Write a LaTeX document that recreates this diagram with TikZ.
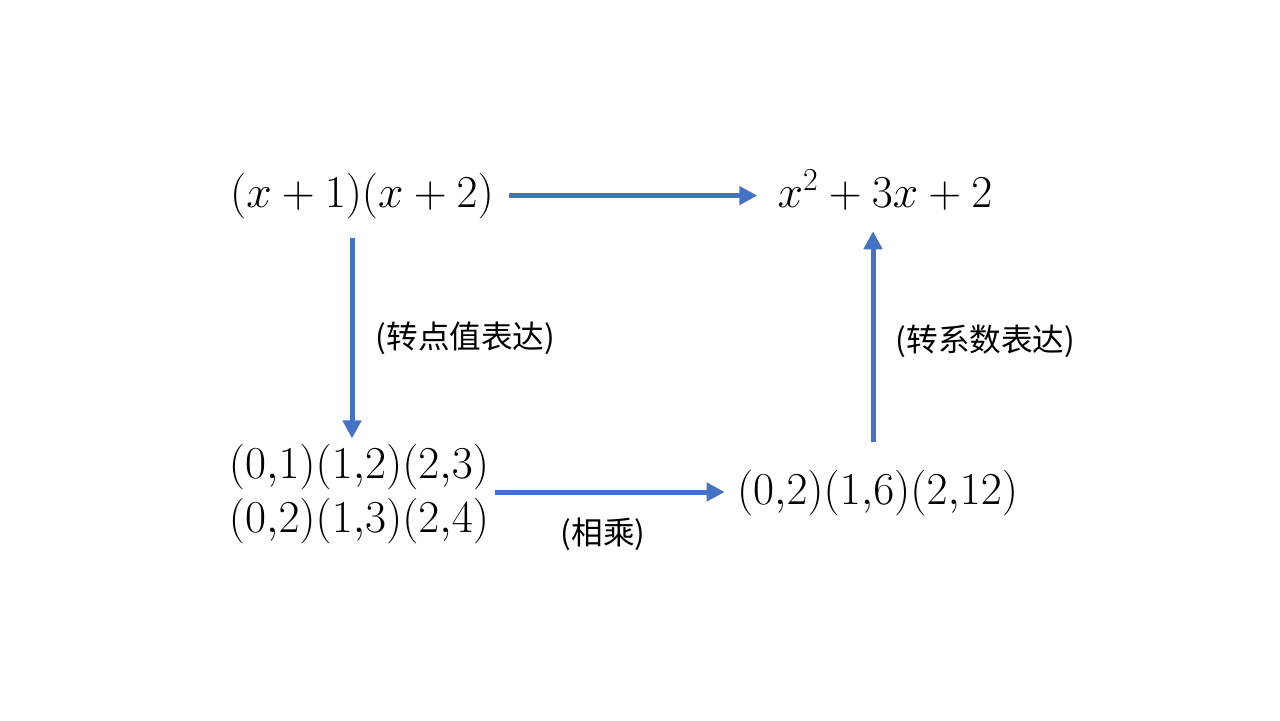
\RequirePackage{fix-cm}
\documentclass[tikz,border=0pt]{standalone}
\usepackage{fontspec}
\newfontfamily\cjk{Noto Sans CJK SC}
\usetikzlibrary{arrows.meta,calc}
\definecolor{arrblue}{HTML}{4472C4}
\begin{document}
\begin{tikzpicture}[x=0.02cm,y=-0.02cm,
  mathtxt/.style={inner sep=0pt,font=\fontsize{26}{31.2}\selectfont},
  cjklabel/.style={inner sep=0pt,font=\cjk\fontsize{18}{21}\selectfont},
  arr/.style={draw=arrblue,line width=0.1cm,-{Triangle[length=0.36cm,width=0.36cm]}}]
\useasboundingbox (0,0) rectangle (1280,720);
\node[mathtxt,anchor=base] (a) at (362,207) {$(x+1)(x+2)$};
\node[mathtxt,anchor=base] (b) at (885,207) {$x^2+3x+2$};
\node[mathtxt,align=left] (pv) at (359,494) {$(0{,}1)(1{,}2)(2{,}3)$\\$(0{,}2)(1{,}3)(2{,}4)$};
\node[mathtxt,anchor=base] (c) at (877.5,504) {$(0{,}2)(1{,}6)(2{,}12)$};
\node[cjklabel] (l1) at (465.5,338) {(转点值表达)};
\node[cjklabel] (l2) at (985.5,341) {(转系数表达)};
\node[cjklabel] (l3) at (603,534) {(相乘)};
\draw[arr] ([xshift=15*0.02cm]a.east) -- ([xshift=-20*0.02cm]a.east -| b.west);
\draw[arr] ([shift={(-10,19)}]a.south) -- ([shift={(-10,-5)}]a.south |- pv.north);
\draw[arr] ([shift={(6,-2)}]pv.east) -- ([shift={(-12,-2)}]pv.east -| c.west);
\draw[arr] ([shift={(-4.5,-27)}]c.north) -- ([shift={(-4.5,21)}]c.north |- b.south);
\end{tikzpicture}
\end{document}
